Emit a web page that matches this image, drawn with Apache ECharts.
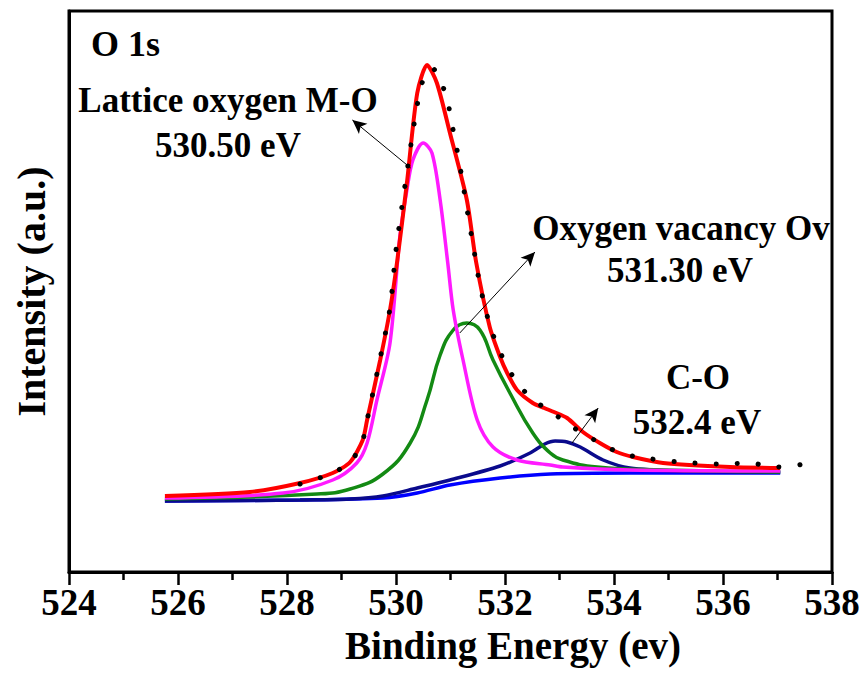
<!DOCTYPE html>
<html>
<head>
<meta charset="utf-8">
<script src="https://cdn.jsdelivr.net/npm/echarts@6/dist/echarts.min.js"></script>
<style>html,body{margin:0;padding:0;background:#fff}#c{width:863px;height:673px}</style>
</head>
<body>
<div id="c"></div>
<script>
// ---- data (binding energy in eV, intensity in arbitrary units) ----
const xTicks = [524, 526, 528, 530, 532, 534, 536, 538];

const rawE = [528.24, 528.84, 529.19, 529.39, 529.47, 529.71, 529.89, 530.00, 530.18, 530.39, 530.51, 530.66, 530.81, 530.94, 531.03, 531.12, 531.21, 531.32, 531.43, 531.54, 531.72, 531.91, 532.13, 532.42, 532.73, 533.01, 533.38, 533.71, 534.07, 534.44, 535.21, 535.94, 536.50, 536.92, 537.28, 537.65];
const rawI = [88, 99, 112, 132, 152, 214, 264, 322, 392, 467, 494, 504, 492, 472, 447, 422, 394, 357, 322, 287, 247, 220, 197, 177, 164, 154, 140, 130, 120, 115, 110, 108, 109, 105, 106, 110];

const envE = [525.76, 527.32, 528.24, 528.84, 529.16, 529.39, 529.47, 529.71, 529.89, 530.02, 530.20, 530.39, 530.57, 530.75, 530.99, 531.30, 531.47, 531.72, 531.91, 532.04, 532.22, 532.51, 532.72, 532.90, 533.14, 533.43, 533.74, 534.05, 534.35, 534.90, 536.13, 537.05];
const envI = [76, 80, 89, 99, 110, 132, 152, 212, 262, 310, 389, 479, 507, 489, 439, 372, 310, 245, 215, 199, 182, 169, 164, 160, 154, 140, 129, 120, 115, 109, 105, 104];

const moE = [525.76, 527.93, 528.84, 529.28, 529.47, 529.65, 529.89, 530.07, 530.20, 530.31, 530.50, 530.66, 530.81, 530.95, 531.05, 531.23, 531.49, 531.78, 532.22, 532.83, 533.06, 534.29, 537.05];
const moI = [74, 79, 92, 109, 129, 172, 229, 335, 382, 412, 429, 419, 372, 309, 262, 212, 152, 125, 112, 107, 105, 102, 101];

const ovE = [525.76, 528.55, 529.16, 529.76, 530.26, 530.57, 530.81, 531.05, 531.30, 531.54, 531.78, 532.09, 532.51, 532.83, 533.06, 533.69, 534.90, 537.05];
const ovI = [73, 78, 83, 98, 129, 172, 217, 242, 249, 242, 212, 179, 139, 119, 112, 105, 102, 100];

const coE = [525.76, 528.24, 529.16, 529.76, 530.39, 530.99, 531.91, 532.46, 532.73, 532.92, 533.14, 533.38, 533.80, 534.29, 535.21, 537.05];
const coI = [71, 72, 73, 76, 84, 92, 106, 119, 128, 131, 130, 125, 112, 104, 101, 100];

const bgE = [525.76, 528.24, 529.76, 530.39, 530.99, 531.91, 532.83, 534.29, 537.05];
const bgI = [71, 72, 74, 79, 87, 94, 98, 99, 99];

// annotation arrows: [tail, head] in data coordinates
const arrowMO = [[530.27, 404], [529.20, 452]];
const arrowOv = [[531.17, 239], [532.55, 320]];
const arrowCO = [[533.23, 129], [533.71, 164]];

// ---- chart ----
const zip = (a, b) => a.map((v, i) => [v, b[i]]);
const FONT = 'Liberation Serif, Times New Roman, serif';

function curve(name, e, i, color, width, smooth) {
  return {
    name, type: 'line', data: zip(e, i), showSymbol: false, symbol: 'none',
    smooth: smooth, lineStyle: { color, width }, silent: true
  };
}

const arrowLine = (pair) => [{ coord: pair[0] }, { coord: pair[1] }];

const bg = curve('Background', bgE, bgI, '#0000ff', 3.5, 0.3);
bg.markLine = {
  silent: true, symbol: ['none', 'arrow'], symbolSize: [10, 14],
  label: { show: false },
  lineStyle: { color: '#000', width: 1, type: 'solid' },
  data: [arrowLine(arrowMO), arrowLine(arrowOv), arrowLine(arrowCO)]
};

const raw = curve('Raw', rawE, rawI, '#000', 5, 0.3);
raw.lineStyle = { color: '#000', width: 5, type: [0.1, 21], cap: 'round' };

const txt = (t, x, y, size, align) => ({
  type: 'text', x, y,
  style: { text: t, fontFamily: FONT, fontWeight: 'bold', fontSize: size, fill: '#000', align: align || 'center', verticalAlign: 'middle' }
});

const chart = echarts.init(document.getElementById('c'), null, { renderer: 'svg' });
chart.setOption({
  animation: false,
  backgroundColor: '#fff',
  textStyle: { fontFamily: FONT },
  grid: { left: 69, right: 31, top: 11, bottom: 101, show: true, borderColor: '#000', borderWidth: 3 },
  xAxis: {
    type: 'value', min: xTicks[0], max: xTicks[xTicks.length - 1], interval: 2,
    name: 'Binding Energy (ev)', nameLocation: 'middle', nameGap: 50,
    nameTextStyle: { fontFamily: FONT, fontWeight: 'bold', fontSize: 39, color: '#000', padding: [0, 0, 0, 125] },
    axisLine: { show: true, lineStyle: { color: '#000', width: 3 } },
    axisTick: { show: true, length: 13, inside: false, lineStyle: { color: '#000', width: 2.5 } },
    minorTick: { show: true, splitNumber: 2, length: 8, lineStyle: { color: '#000', width: 2.5 } },
    axisLabel: { margin: 12, fontFamily: FONT, fontWeight: 'bold', fontSize: 37, color: '#000' },
    splitLine: { show: false }
  },
  yAxis: {
    type: 'value', min: 0, max: 561,
    name: 'Intensity (a.u.)', nameLocation: 'middle', nameGap: 18,
    nameTextStyle: { fontFamily: FONT, fontWeight: 'bold', fontSize: 40, color: '#000' },
    axisLine: { show: true, lineStyle: { color: '#000', width: 3 } },
    axisTick: { show: false }, axisLabel: { show: false }, splitLine: { show: false }
  },
  series: [
    bg,
    curve('C-O', coE, coI, '#0a0a8c', 3.5, 0.3),
    curve('Oxygen vacancy Ov', ovE, ovI, '#138a13', 3.5, 0.45),
    curve('Lattice oxygen M-O', moE, moI, '#ff1aff', 3.5, 0.3),
    curve('Envelope', envE, envI, '#ff0000', 4, 0.25),
    raw
  ],
  graphic: [
    txt('O 1s', 91, 44, 36, 'left'),
    txt('Lattice oxygen M-O', 228, 100, 35),
    txt('530.50 eV', 228, 145, 35),
    txt('Oxygen vacancy Ov', 681, 228, 35),
    txt('531.30 eV', 680, 270, 35),
    txt('C-O', 698, 377, 35),
    txt('532.4 eV', 697, 422, 35)
  ]
});
</script>
</body>
</html>
